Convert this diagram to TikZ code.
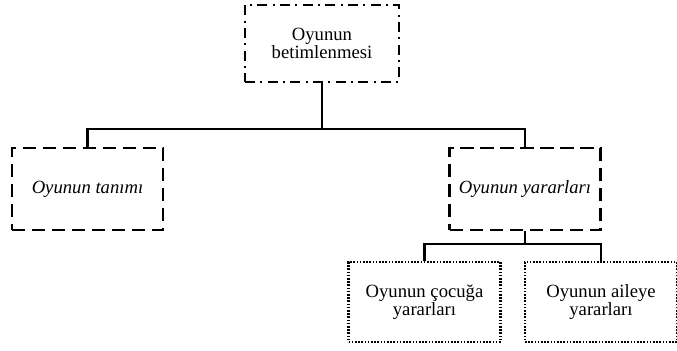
\documentclass[tikz,border=0pt]{standalone}
\usepackage{fontspec}
\setmainfont{Liberation Serif}
\usetikzlibrary{positioning}
\tikzset{
    box line/.style={line width=1.9pt},
    root box/.style={box line,draw,align=center,minimum width=115.5pt,minimum height=57.75pt,
        dash pattern=on 7.5pt off 4pt on 1.5pt off 4pt},
    topic box/.style={box line,draw,align=center,minimum width=113.25pt,minimum height=61.5pt,
        dash pattern=on 10pt off 5pt},
    leaf box/.style={box line,draw,align=center,minimum width=114pt,minimum height=60pt,
        dash pattern=on 1.2pt off 1.2pt},
    conn/.style={line width=1.9pt},
}
\tikzstyle{every node}=[font=\fontsize{14}{13.5}\selectfont]

\begin{document}
\begin{tikzpicture}[x=0.75pt,y=-0.75pt]
        \useasboundingbox (0,0) rectangle (677,350);

        \node[root box] (oyun) at (322,43.5) {Oyunun\\betimlenmesi};
        \node[topic box] (tanim) at (87.5,189) {\itshape Oyunun tanımı};
        \node[topic box] (yarar) at (525,189) {\itshape Oyunun yararları};
        \node[leaf box] (cocuk) at (424.5,302) {Oyunun çocuğa\\yararları};
        \node[leaf box] (aile) at (601,302) {Oyunun aileye\\yararları};

        % branch lines
        \coordinate (bus) at (322,129);
        \coordinate (subbus) at (525,244);
        \draw[conn] (oyun) -- (bus);
        \draw[conn] (tanim.north) |- (bus) -| (yarar.north);
        \draw[conn] (yarar) -- (subbus);
        \draw[conn] (cocuk.north) |- (subbus) -| (aile.north);
    \end{tikzpicture}
\end{document}
